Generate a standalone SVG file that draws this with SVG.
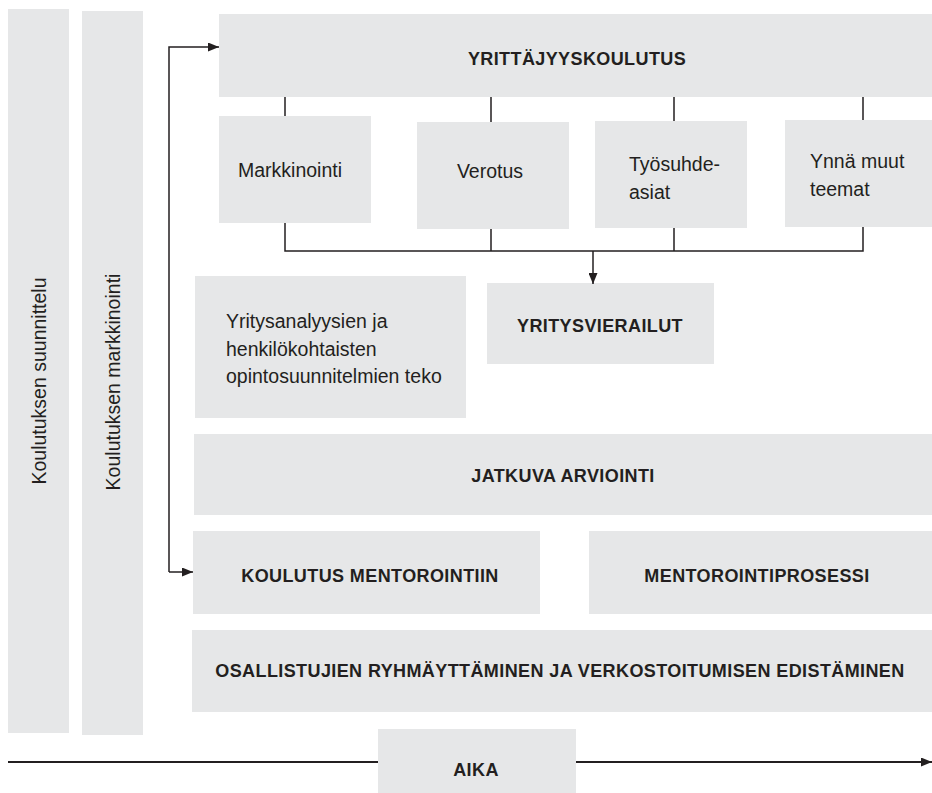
<svg xmlns="http://www.w3.org/2000/svg" width="932" height="793" viewBox="0 0 932 793">
<style>
.box{fill:#e6e7e8}
.t{font-family:"Liberation Sans",Arial,sans-serif;font-size:19.5px;fill:#231f20}
.b{font-family:"Liberation Sans",Arial,sans-serif;font-size:18px;font-weight:bold;letter-spacing:0.4px;fill:#231f20;text-anchor:middle}
.ln{fill:none;stroke:#231f20;stroke-width:1.5}
</style>
<defs>
<marker id="ah" markerWidth="11" markerHeight="9" refX="11" refY="4.5" orient="auto" markerUnits="userSpaceOnUse">
<path d="M0,0 L11,4.5 L0,9 Z" fill="#231f20"/>
</marker>
</defs>
<rect width="932" height="793" fill="#ffffff"/>

<g id="suunnittelu">
<rect class="box" x="8" y="9" width="61" height="724"/>
<text class="t" transform="translate(46,381) rotate(-90)" text-anchor="middle">Koulutuksen suunnittelu</text>
</g>
<g id="markkinointi-col">
<rect class="box" x="82" y="11" width="61" height="724"/>
<text class="t" transform="translate(120,382) rotate(-90)" text-anchor="middle">Koulutuksen markkinointi</text>
</g>

<g id="yrittajyyskoulutus">
<rect class="box" x="219" y="14" width="713" height="83"/>
<text class="b" x="577" y="65">YRITTÄJYYSKOULUTUS</text>
</g>
<g id="markkinointi">
<rect class="box" x="219" y="116" width="152" height="107"/>
<text class="t" x="290" y="177" text-anchor="middle">Markkinointi</text>
</g>
<g id="verotus">
<rect class="box" x="417" y="122" width="152" height="107"/>
<text class="t" x="490" y="178" text-anchor="middle">Verotus</text>
</g>
<g id="tyosuhdeasiat">
<rect class="box" x="595" y="121" width="152" height="107"/>
<text class="t" x="629" y="171">Työsuhde-</text>
<text class="t" x="629" y="199">asiat</text>
</g>
<g id="ynna-muut">
<rect class="box" x="785" y="120" width="147" height="107"/>
<text class="t" x="810" y="168">Ynnä muut</text>
<text class="t" x="810" y="196">teemat</text>
</g>
<g id="yritysanalyysit">
<rect class="box" x="195" y="276" width="271" height="142"/>
<text class="t" x="226" y="328">Yritysanalyysien ja</text>
<text class="t" x="226" y="356">henkilökohtaisten</text>
<text class="t" x="226" y="383">opintosuunnitelmien teko</text>
</g>
<g id="yritysvierailut">
<rect class="box" x="487" y="283" width="227" height="81"/>
<text class="b" x="600" y="332">YRITYSVIERAILUT</text>
</g>
<g id="jatkuva-arviointi">
<rect class="box" x="194" y="434" width="738" height="81"/>
<text class="b" x="563" y="482">JATKUVA ARVIOINTI</text>
</g>
<g id="koulutus-mentorointiin">
<rect class="box" x="193" y="531" width="347" height="83"/>
<text class="b" x="370" y="582">KOULUTUS MENTOROINTIIN</text>
</g>
<g id="mentorointiprosessi">
<rect class="box" x="589" y="531" width="343" height="83"/>
<text class="b" x="757" y="582">MENTOROINTIPROSESSI</text>
</g>
<g id="osallistujat">
<rect class="box" x="192" y="630" width="740" height="82"/>
<text class="b" x="560" y="677">OSALLISTUJIEN RYHMÄYTTÄMINEN JA VERKOSTOITUMISEN EDISTÄMINEN</text>
</g>
<g id="aika">
<rect class="box" x="378" y="729" width="198" height="64"/>
<text class="b" x="476" y="776">AIKA</text>
</g>

<g id="connectors">
<path class="ln" d="M169,572 V47 H219" marker-end="url(#ah)"/>
<path class="ln" d="M169,572 H193" marker-end="url(#ah)"/>
<path class="ln" d="M285,97 V116 M491,97 V122 M674,97 V121 M863,97 V120"/>
<path class="ln" d="M285,223 V251 H863 V227 M491,229 V251 M674,228 V251"/>
<path class="ln" d="M593,251 V284" marker-end="url(#ah)"/>
<path class="ln" style="stroke-width:2" d="M8,762 H378 M576,762 H932" marker-end="url(#ah)"/>
</g>
</svg>
